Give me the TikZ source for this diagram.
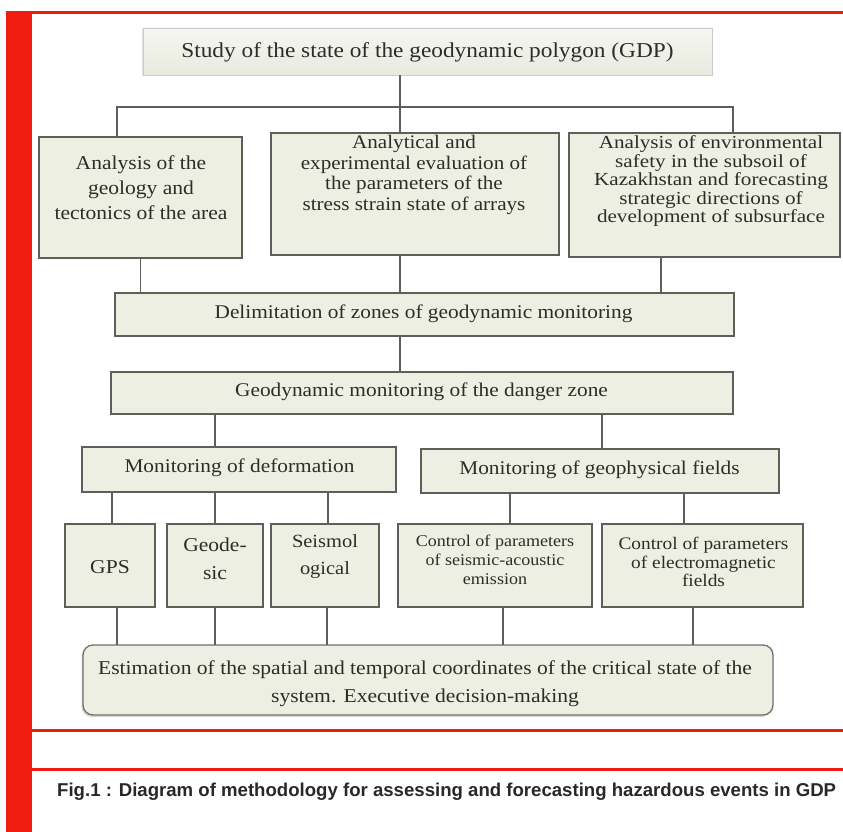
\documentclass[tikz,border=0pt]{standalone}
\usepackage{fontspec}
\setmainfont{Liberation Serif}[FakeStretch=1.1]
\newfontfamily\widefont{Liberation Serif}[FakeStretch=1.15]
\newfontfamily\capfont{Liberation Sans}
\usetikzlibrary{shadows}
\definecolor{boxfill}{RGB}{237,239,227}
\definecolor{boxline}{RGB}{95,95,90}
\definecolor{redrule}{RGB}{240,28,16}
\definecolor{txtc}{RGB}{45,45,40}
\definecolor{capc}{RGB}{40,40,40}
\newcommand\fs[2]{\fontsize{#1}{#2}\selectfont\lineskiplimit=-50pt\lineskip=0pt}
\begin{document}
\begin{tikzpicture}[x=1pt,y=-1pt,
  box/.style={draw=boxline, line width=1.3pt, fill=boxfill, inner sep=0pt, outer sep=0pt},
  topbox/.style={draw=gray!40, line width=0.8pt, top color=boxfill!50!white, bottom color=boxfill!95!gray, inner sep=0pt, outer sep=0pt,
     drop shadow={shadow xshift=-1.5pt, shadow yshift=-1.5pt, opacity=0.25}},
  endbox/.style={draw=boxline!90, line width=1.3pt, fill=boxfill, rounded corners=10pt, inner sep=0pt, outer sep=0pt,
     drop shadow={shadow xshift=-1.5pt, shadow yshift=-2pt, opacity=0.3}},
  txt/.style={align=center, text=txtc, inner sep=0pt},
  conn/.style={draw=boxline, line width=1.2pt},
  caption/.style={anchor=west, inner sep=0pt, text=capc, font=\capfont\bfseries\fs{18.6}{22}}]
\useasboundingbox (0,0) rectangle (843,832);
% red frame
\fill[redrule] (6,11) rectangle (32,832);
\fill[redrule] (6,11) rectangle (843,14);
\fill[redrule] (32,728.5) rectangle (843,731.5);
\fill[redrule] (32,767.5) rectangle (843,770.5);

% boxes
\node[topbox, minimum width=569pt, minimum height=47pt] (t) at (427.5,51.5) {};
\node[box, minimum width=203pt, minimum height=121pt] (b1) at (140.5,197.5) {};
\node[box, minimum width=288pt, minimum height=122pt] (b2) at (415,194) {};
\node[box, minimum width=271pt, minimum height=124pt] (b3) at (704.5,195) {};
\node[box, minimum width=619pt, minimum height=43pt] (d) at (424.5,314.5) {};
\node[box, minimum width=622pt, minimum height=42pt] (g) at (422,393) {};
\node[box, minimum width=314pt, minimum height=45pt] (md) at (239,469.5) {};
\node[box, minimum width=358pt, minimum height=44pt] (mg) at (600,471) {};
\node[box, minimum width=90pt, minimum height=83pt] (gps) at (110,565.5) {};
\node[box, minimum width=96pt, minimum height=83pt] (geo) at (215,565.5) {};
\node[box, minimum width=108pt, minimum height=83pt] (sei) at (325,565.5) {};
\node[box, minimum width=194pt, minimum height=83pt] (cs) at (495,565.5) {};
\node[box, minimum width=201pt, minimum height=83pt] (ce) at (702.5,565.5) {};
\node[endbox, minimum width=690pt, minimum height=70pt] (e) at (428,680) {};

% texts
\node[txt, font=\fs{21.2}{26}] (tt) at (427.5,52) {Study of the state of the geodynamic polygon (GDP)};
\node[txt, font=\fs{19.6}{25}] (b1t) at (141,188) {Analysis of the\\geology and\\tectonics of the area};
\node[txt, font=\fs{19.2}{20.5}] (b2t) at (414,175) {Analytical and\\experimental evaluation of\\the parameters of the\\stress strain state of arrays};
\node[txt, font=\widefont\fs{18.4}{18.5}] (b3t) at (711,181) {Analysis of environmental\\safety in the subsoil of\\Kazakhstan and forecasting\\strategic directions of\\development of subsurface};
\node[txt, font=\fs{19.4}{25}] (dt) at (423.5,314) {Delimitation of zones of geodynamic monitoring};
\node[txt, font=\fs{19.4}{25}] (gt) at (421.5,392) {Geodynamic monitoring of the danger zone};
\node[txt, font=\fs{19.4}{25}] (mdt) at (239.5,468) {Monitoring of deformation};
\node[txt, font=\fs{19.4}{25}] (mgt) at (599.5,470) {Monitoring of geophysical fields};
\node[txt, font=\fs{19.6}{25}] (gpst) at (110,567) {GPS};
\node[txt, font=\fs{19.6}{28}] (geot) at (215,559) {Geode-\\sic};
\node[txt, font=\fs{18.6}{27}] (seit) at (325,557) {Seismol\\ogical};
\node[txt, font=\fs{16.4}{19}] (cst) at (495,560) {Control of parameters\\of seismic-acoustic\\emission};
\node[txt, font=\fs{17.6}{18.5}] (cet) at (703.5,562) {Control of parameters\\of electromagnetic\\fields};
\node[txt, font=\fs{19.6}{28}] (et) at (425,684) {Estimation of the spatial and temporal coordinates of the critical state of the\\system. Executive decision-making};

\node[caption] (cap) at (57,792) {Fig.1 : Diagram of methodology for assessing and forecasting hazardous events in GDP};

% x positions
\foreach \xx in {112,117,215,327,328,400,503,510,602,661,684,693,733}
  \coordinate (x\xx) at (\xx,0);
\coordinate (jl) at (117,107);
\coordinate (jm) at (400,107);
\coordinate (jr) at (733,107);

% connectors
\draw[conn] (t.south -| jm) -- (jm);
\draw[conn] (b1.north -| jl) -- (jl) -- (jr) -- (b3.north -| jr);
\draw[conn] (jm) -- (b2.north -| jm);
\draw[conn] (b1.south) -- (d.north -| b1.south);
\draw[conn] (b2.south -| x400) -- (d.north -| x400);
\draw[conn] (b3.south -| x661) -- (d.north -| x661);
\draw[conn] (d.south -| x400) -- (g.north -| x400);
\draw[conn] (g.south -| x215) -- (md.north -| x215);
\draw[conn] (g.south -| x602) -- (mg.north -| x602);
\draw[conn] (md.south -| x112) -- (gps.north -| x112);
\draw[conn] (md.south -| x215) -- (geo.north -| x215);
\draw[conn] (md.south -| x328) -- (sei.north -| x328);
\draw[conn] (mg.south -| x510) -- (cs.north -| x510);
\draw[conn] (mg.south -| x684) -- (ce.north -| x684);
\draw[conn] (gps.south -| x117) -- (e.north -| x117);
\draw[conn] (geo.south -| x215) -- (e.north -| x215);
\draw[conn] (sei.south -| x327) -- (e.north -| x327);
\draw[conn] (cs.south -| x503) -- (e.north -| x503);
\draw[conn] (ce.south -| x693) -- (e.north -| x693);
\end{tikzpicture}
\end{document}
